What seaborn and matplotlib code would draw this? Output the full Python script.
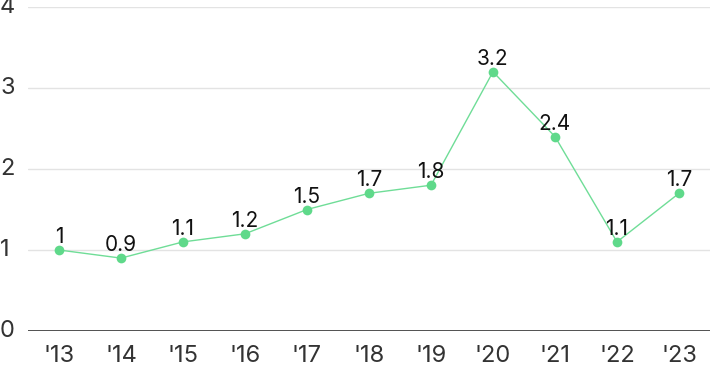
import matplotlib
matplotlib.use("Agg")
import matplotlib.pyplot as plt
import matplotlib.transforms as mtransforms
import seaborn as sns
import pandas as pd

years = ["'13", "'14", "'15", "'16", "'17", "'18", "'19", "'20", "'21", "'22", "'23"]
values = [1, 0.9, 1.1, 1.2, 1.5, 1.7, 1.8, 3.2, 2.4, 1.1, 1.7]
labels = ["1", "0.9", "1.1", "1.2", "1.5", "1.7", "1.8", "3.2", "2.4", "1.1", "1.7"]
yticks = [0, 1, 2, 3, 4]

sns.set_style("white")
plt.rcParams['font.family'] = ['Inter', 'DejaVu Sans']

df = pd.DataFrame({"year": years, "value": values, "x": range(len(years))})

fig = plt.figure(figsize=(7.10, 3.71), dpi=100)
ax = fig.add_axes([28/710, 40/371, 682/710, 324/371])

for t in yticks[1:]:
    ax.axhline(t, color="#e3e3e3", lw=1, zorder=0)
ax.axhline(0, color="#333333", lw=1.2, zorder=1)

sns.lineplot(data=df, x="x", y="value", ax=ax, color="#6fdd97", lw=1,
             marker="o", markersize=7, markerfacecolor="#5fd98a",
             markeredgewidth=0, zorder=3)

for xi, v, lab in zip(df["x"], values, labels):
    ax.annotate(lab, (xi, v), xytext=(0, 5), textcoords="offset points",
                ha="center", va="baseline", fontsize=15, color="#111111")

ax.set_xlim(-0.5, len(years) - 0.5)
ax.set_ylim(0, 4)
ax.set_xticks(range(len(years)))
ax.set_xticklabels(years)
ax.set_yticks(yticks)
ax.set_yticklabels([])
ax.tick_params(axis="both", length=0, labelsize=17, colors="#333333")
ax.tick_params(axis="x", pad=10)

trans = mtransforms.blended_transform_factory(fig.transFigure, ax.transData)
for t in yticks:
    ax.text(0.0, t, str(t), transform=trans, ha="left", va="center",
            fontsize=17, color="#333333", clip_on=False)

ax.set_xlabel("")
ax.set_ylabel("")
for s in ax.spines.values():
    s.set_visible(False)

fig.savefig("out.png", dpi=100)
